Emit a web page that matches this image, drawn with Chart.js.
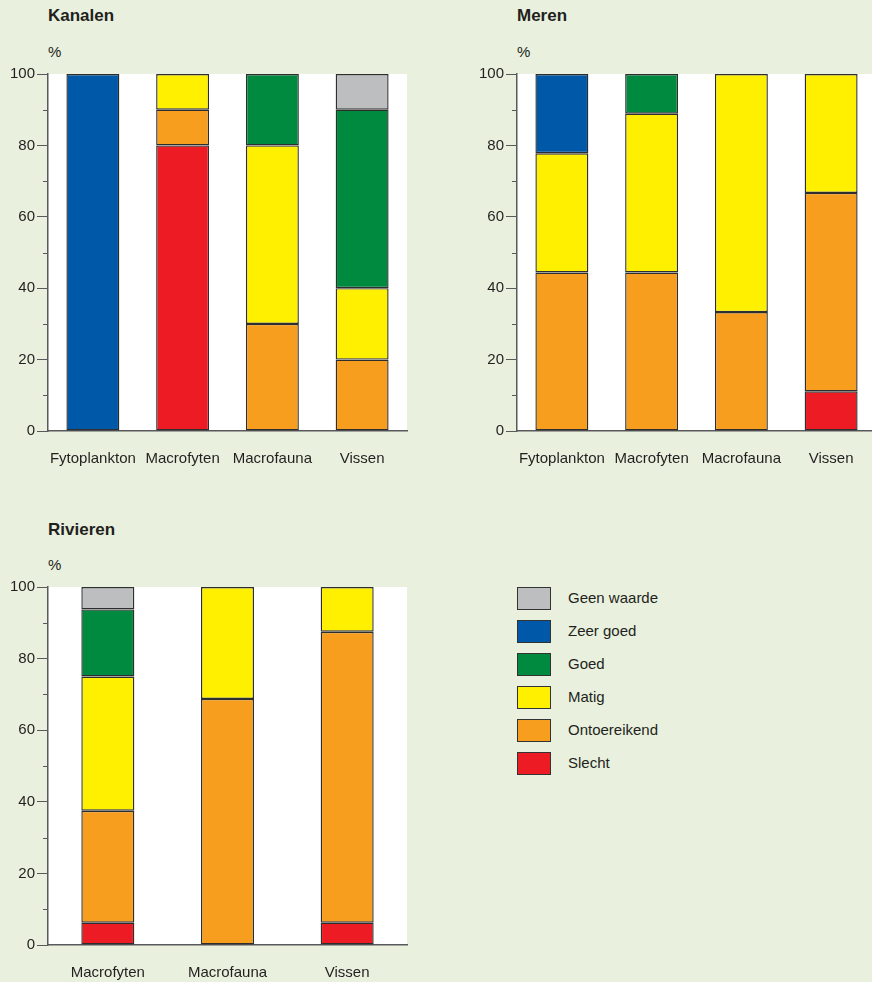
<!DOCTYPE html>
<html>
<head>
<meta charset="utf-8">
<script src="https://cdn.jsdelivr.net/npm/chart.js@4.4.1/dist/chart.umd.min.js"></script>
<style>
html,body{margin:0;padding:0;width:872px;height:982px;overflow:hidden;background:#e9f1de;font-family:"Liberation Sans",Arial,sans-serif;color:#231f20;}
canvas{position:absolute;}
.title{position:absolute;font-weight:bold;font-size:17px;line-height:20px;white-space:nowrap;}
.unit{position:absolute;font-size:15px;line-height:20px;}
.leg{position:absolute;left:517px;height:23px;}
.leg .box{position:absolute;left:0;top:0;width:34px;height:23px;box-sizing:border-box;border:1px solid #333;}
.leg .txt{position:absolute;left:51px;top:1px;font-size:15px;line-height:20px;white-space:nowrap;}
</style>
</head>
<body>
<div class="title" style="left:48px;top:6px;">Kanalen</div>
<div class="unit" style="left:48px;top:42px;">%</div>
<div class="title" style="left:517px;top:6px;">Meren</div>
<div class="unit" style="left:517px;top:42px;">%</div>
<div class="title" style="left:48px;top:520px;">Rivieren</div>
<div class="unit" style="left:48px;top:555px;">%</div>

<canvas id="kanalen" width="440" height="480" style="left:0;top:0;"></canvas>
<canvas id="meren" width="440" height="480" style="left:440px;top:0;"></canvas>
<canvas id="rivieren" width="440" height="482" style="left:0;top:500px;"></canvas>
<div id="legend"></div>

<script>
// ---- Data ----
const seriesNames = ['Slecht', 'Ontoereikend', 'Matig', 'Goed', 'Zeer goed', 'Geen waarde'];
const seriesColors = ['#ed1c24', '#f79e1e', '#fff000', '#008a40', '#0058a8', '#bcbec0'];
const legendOrder = ['Geen waarde', 'Zeer goed', 'Goed', 'Matig', 'Ontoereikend', 'Slecht'];

const kanalenCategories = ['Fytoplankton', 'Macrofyten', 'Macrofauna', 'Vissen'];
const kanalenSlecht       = [null, 80, null, null];
const kanalenOntoereikend = [null, 10, 30, 20];
const kanalenMatig        = [null, 10, 50, 20];
const kanalenGoed         = [null, null, 20, 50];
const kanalenZeerGoed     = [100, null, null, null];
const kanalenGeenWaarde   = [null, null, null, 10];

const merenCategories = ['Fytoplankton', 'Macrofyten', 'Macrofauna', 'Vissen'];
const merenSlecht       = [null, null, null, 11.1];
const merenOntoereikend = [44.4, 44.4, 33.3, 55.6];
const merenMatig        = [33.4, 44.5, 66.7, 33.3];
const merenGoed         = [null, 11.1, null, null];
const merenZeerGoed     = [22.2, null, null, null];
const merenGeenWaarde   = [null, null, null, null];

const rivierenCategories = ['Macrofyten', 'Macrofauna', 'Vissen'];
const rivierenSlecht       = [6.25, null, 6.25];
const rivierenOntoereikend = [31.25, 68.75, 81.25];
const rivierenMatig        = [37.5, 31.25, 12.5];
const rivierenGoed         = [18.75, null, null];
const rivierenZeerGoed     = [null, null, null];
const rivierenGeenWaarde   = [6.25, null, null];

const yTicks = [0, 20, 40, 60, 80, 100];
const yMinorTicks = [10, 30, 50, 70, 90];

// ---- Helpers ----
const axisColor = '#58595b';
const fontFamily = '"Liberation Sans", Arial, sans-serif';

const whiteArea = {
  id: 'whiteArea',
  beforeDraw(chart) {
    const a = chart.chartArea, c = chart.ctx;
    c.save(); c.fillStyle = '#ffffff';
    c.fillRect(a.left, a.top, a.right - a.left, a.bottom - a.top);
    c.restore();
  }
};
const minorTicks = {
  id: 'minorTicks',
  afterDraw(chart) {
    const s = chart.scales.y, c = chart.ctx;
    c.save(); c.strokeStyle = axisColor; c.lineWidth = 1;
    yMinorTicks.forEach(v => {
      const y = Math.round(s.getPixelForValue(v)) + 0.5;
      c.beginPath(); c.moveTo(s.right - 5, y); c.lineTo(s.right, y); c.stroke();
    });
    c.restore();
  }
};

function makeChart(id, labels, data, opts) {
  const datasets = seriesNames.map((name, i) => ({
    label: name,
    data: data[i],
    backgroundColor: seriesColors[i],
    borderColor: '#2e2e2e',
    borderWidth: 1.4,
    borderSkipped: false,
    barPercentage: opts.barPct,
    categoryPercentage: 1
  }));
  return new Chart(document.getElementById(id), {
    type: 'bar',
    data: { labels, datasets },
    options: {
      responsive: false,
      devicePixelRatio: 1,
      animation: false,
      layout: { padding: opts.padding },
      plugins: { legend: { display: false }, tooltip: { enabled: false } },
      scales: {
        x: {
          stacked: true,
          grid: { display: false, drawTicks: false },
          border: { display: true, color: axisColor, width: 1.5 },
          ticks: { color: '#231f20', font: { family: fontFamily, size: 15 }, padding: 19, maxRotation: 0, autoSkip: false },
          afterFit(s) { s.height = opts.xHeight; }
        },
        y: {
          stacked: true,
          min: 0, max: 100,
          afterBuildTicks(s) { s.ticks = yTicks.map(v => ({ value: v })); },
          grid: { drawOnChartArea: false, color: axisColor, tickLength: 11, lineWidth: 1 },
          border: { display: true, color: axisColor, width: 1.5 },
          ticks: { color: '#231f20', font: { family: fontFamily, size: 15 }, padding: 2 },
          afterFit(s) { s.width = 48; }
        }
      }
    },
    plugins: [whiteArea, minorTicks]
  });
}

makeChart('kanalen', kanalenCategories,
  [kanalenSlecht, kanalenOntoereikend, kanalenMatig, kanalenGoed, kanalenZeerGoed, kanalenGeenWaarde],
  { barPct: 0.59, padding: { top: 74, right: 33, left: 0, bottom: 0 }, xHeight: 49 });
makeChart('meren', merenCategories,
  [merenSlecht, merenOntoereikend, merenMatig, merenGoed, merenZeerGoed, merenGeenWaarde],
  { barPct: 0.59, padding: { top: 74, right: 4, left: 29, bottom: 0 }, xHeight: 49 });
makeChart('rivieren', rivierenCategories,
  [rivierenSlecht, rivierenOntoereikend, rivierenMatig, rivierenGoed, rivierenZeerGoed, rivierenGeenWaarde],
  { barPct: 0.443, padding: { top: 87, right: 33, left: 0, bottom: 0 }, xHeight: 37 });

// ---- Legend ----
const legend = document.getElementById('legend');
legendOrder.forEach((name, i) => {
  const row = document.createElement('div');
  row.className = 'leg';
  row.style.top = (587 + i * 33) + 'px';
  const box = document.createElement('div');
  box.className = 'box';
  box.style.background = seriesColors[seriesNames.indexOf(name)];
  const txt = document.createElement('div');
  txt.className = 'txt';
  txt.textContent = name;
  row.appendChild(box); row.appendChild(txt);
  legend.appendChild(row);
});
</script>
</body>
</html>
